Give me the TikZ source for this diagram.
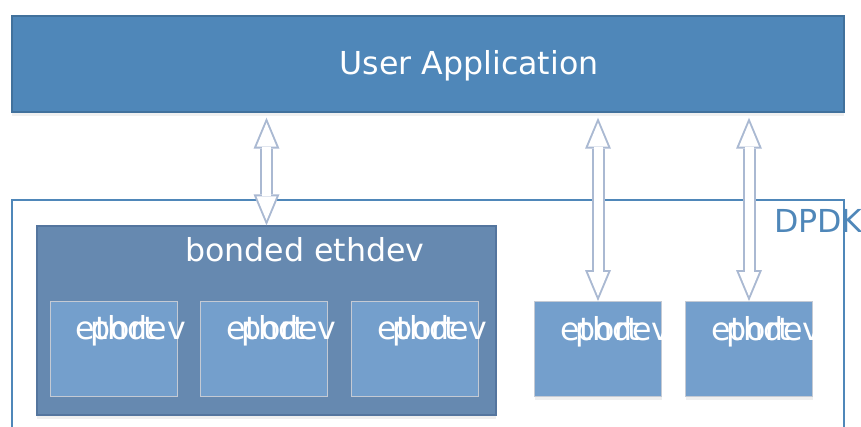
\documentclass[tikz,border=0pt]{standalone}
\usepackage{fontspec}
\setmainfont{DejaVu Sans}
\usepackage{xcolor}
\usepackage{tikz}
\usetikzlibrary{arrows.meta, positioning, calc, shadows}

\definecolor{appfill}{RGB}{79,135,185}
\definecolor{appline}{RGB}{65,113,156}
\definecolor{bondfill}{RGB}{102,137,176}
\definecolor{bondline}{RGB}{84,117,158}
\definecolor{portfill}{RGB}{116,159,204}
\definecolor{portline}{RGB}{196,202,212}
\definecolor{arrowline}{RGB}{170,185,210}

\newcommand{\portname}{\rlap{ethdev}\hspace{0.3cm}port}

\begin{document}
\begin{tikzpicture}[
    font=\fontsize{18}{21}\selectfont,
    box/.style={rectangle, draw, inner sep=0pt, line width=0.8pt},
    soft/.style={drop shadow={opacity=0.12, shadow xshift=0pt, shadow yshift=-0.07cm}},
    app/.style={box, soft, fill=appfill, draw=appline, minimum width=16.64cm, minimum height=1.92cm},
    dpdk/.style={box, fill=white, draw=appfill, minimum width=16.64cm, minimum height=4.8cm},
    bond/.style={box, soft, fill=bondfill, draw=bondline, minimum width=9.18cm, minimum height=3.78cm},
    port/.style={box, fill=portfill, draw=portline, line width=0.5pt, minimum width=2.54cm, minimum height=1.9cm,
        label={[portlbl]west:\portname}},
    portlbl/.style={white, inner sep=0pt, anchor=west, xshift=0.52cm, yshift=0.35cm},
    arrowout/.style={draw=arrowline, line width=0.26cm,
        {Triangle[length=0.62cm, width=0.52cm, line width=0pt]}-{Triangle[length=0.62cm, width=0.52cm, line width=0pt]},
        shorten >=0.1cm},
    arrowin/.style={draw=white, line width=0.18cm,
        {Triangle[length=0.48cm, width=0.40cm, line width=0pt]}-{Triangle[length=0.48cm, width=0.40cm, line width=0pt]},
        shorten <=0.1cm, shorten >=0.2cm}
]
\useasboundingbox (0,0) rectangle (17.22,-8.54);

% Application layer
\node[app, label={[white, xshift=0.82cm, yshift=-0.03cm]center:User Application}] (app) at (8.56,-1.28) {};

% DPDK layer
\node[dpdk] (dpdk) at (8.56,-6.4) {};
\node[anchor=west, inner sep=0pt, text=appfill] (dpdkname) at ([xshift=-1.42cm, yshift=-0.44cm]dpdk.north east) {DPDK};

% Bonded device with its slave ports
\node[bond, label={[white, xshift=0.77cm, yshift=1.41cm]center:bonded ethdev}] (bond) at (5.33,-6.41) {};
\node[port] (p1) at (2.27,-6.97) {};
\node[port] (p2) at (5.28,-6.97) {};
\node[port] (p3) at (8.30,-6.97) {};

% Plain ports
\node[port, soft] (p4) at (11.96,-6.98) {};
\node[port, soft] (p5) at (14.98,-6.98) {};

% Arrows
\draw[arrowout] (bond.north) -- (bond.north |- app.south);
\draw[arrowin] (bond.north) -- (bond.north |- app.south);
\draw[arrowout] (p4.north) -- (p4.north |- app.south);
\draw[arrowin] (p4.north) -- (p4.north |- app.south);
\draw[arrowout] (p5.north) -- (p5.north |- app.south);
\draw[arrowin] (p5.north) -- (p5.north |- app.south);

\end{tikzpicture}
\end{document}
